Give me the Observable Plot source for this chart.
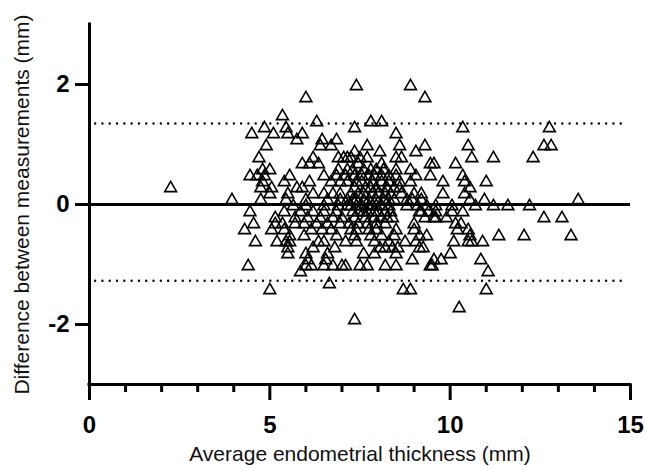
<!DOCTYPE html>
<html><head><meta charset="utf-8">
<script src="https://cdn.jsdelivr.net/npm/d3@7"></script>
<script src="https://cdn.jsdelivr.net/npm/@observablehq/plot@0.6"></script>
<style>
html,body{margin:0;padding:0;background:#fff}
svg [aria-label*="tick"], svg [aria-label*="tick"] * { stroke-width: 3px !important; }
</style>
</head><body><div id="chart"></div>
<script>
const xTitle = "Average endometrial thickness (mm)";
const yTitle = "Difference between measurements (mm)";
const xMajorTicks = [0, 5, 10, 15];
const xMinorTicks = [1, 2, 3, 4, 6, 7, 8, 9, 11, 12, 13, 14];
const yTicks = [-2, 0, 2];
const limitsOfAgreement = [1.35, -1.27];
const biasLine = [0];

// Difference levels (mm) and the averages (mm) of the points at each level
const diffLevels = [2.0, 1.8, 1.5, 1.4, 1.3, 1.2, 1.1, 1.0, 0.9, 0.8, 0.7, 0.6, 0.5, 0.4, 0.3, 0.2, 0.1, 0.0,
  -0.1, -0.2, -0.3, -0.4, -0.5, -0.6, -0.7, -0.8, -0.9, -1.0, -1.1, -1.3, -1.4, -1.7, -1.9];
const averagesAtLevel = [
  [7.4, 8.9],
  [6.0, 9.3],
  [5.35],
  [6.3, 7.8, 8.1],
  [4.85, 5.45, 7.35, 10.35, 12.75],
  [4.5, 5.1, 5.5, 5.9, 8.5],
  [5.75, 6.45, 6.85],
  [4.9, 6.4, 6.7, 7.7, 8.6, 9.3, 10.5, 12.6, 12.8],
  [7.35, 8.05, 9.05],
  [4.7, 6.2, 6.9, 7.05, 7.15, 7.25, 7.5, 7.7, 8.5, 8.65, 10.6, 11.2, 12.3],
  [5.9, 6.1, 6.35, 7.45, 8.1, 9.45, 9.55, 10.15],
  [4.8, 5.0, 6.9, 7.15, 7.3, 7.6, 7.8, 7.95, 8.15, 8.5, 8.9],
  [4.45, 4.65, 4.85, 5.55, 6.5, 6.85, 7.1, 7.35, 7.55, 7.75, 7.9, 8.1, 8.3, 8.5, 9.05, 9.45, 10.35],
  [4.8, 5.4, 6.1, 6.7, 6.95, 7.15, 7.4, 7.55, 7.85, 8.1, 8.3, 8.6, 8.9, 9.8, 10.4, 11.0],
  [2.25, 4.75, 5.05, 5.75, 5.9, 7.35, 7.65, 7.8, 7.95, 8.25, 8.45, 8.6, 10.55],
  [5.0, 5.5, 6.2, 6.5, 6.75, 6.95, 7.25, 7.45, 7.6, 7.85, 8.0, 8.2, 8.35, 8.65, 9.0, 9.2, 9.8, 10.4],
  [3.95, 4.75, 5.45, 6.0, 6.6, 6.95, 7.15, 7.3, 7.4, 7.6, 7.75, 7.95, 8.15, 8.3, 8.45, 8.8, 8.95, 9.2, 10.55, 10.95, 13.55],
  [5.65, 6.0, 6.5, 6.9, 7.15, 7.25, 7.4, 7.55, 7.75, 7.85, 7.95, 8.1, 8.3, 8.8, 9.1, 9.35, 9.6, 10.05, 10.7, 11.2, 11.6, 12.2],
  [4.45, 5.4, 5.85, 6.2, 6.5, 6.85, 7.3, 7.45, 7.6, 7.7, 7.9, 8.0, 8.2, 8.35, 9.15, 9.2, 9.4, 9.6, 10.05, 10.35],
  [5.15, 5.7, 6.05, 6.4, 6.75, 7.0, 7.35, 7.65, 7.9, 8.1, 8.25, 8.4, 9.3, 9.55, 9.6, 9.9, 12.6, 13.1],
  [4.55, 5.15, 5.35, 5.7, 5.95, 6.3, 6.6, 6.95, 7.2, 7.45, 7.7, 7.95, 8.2, 9.0, 10.15, 10.3],
  [4.3, 5.05, 5.4, 6.15, 6.45, 6.7, 7.25, 7.4, 7.75, 7.95, 8.5, 9.0, 10.2, 10.5],
  [5.55, 5.95, 6.85, 7.35, 7.8, 8.1, 8.45, 9.15, 9.35, 10.55, 11.35, 12.05, 13.35],
  [4.6, 5.2, 5.45, 5.55, 6.35, 6.5, 7.1, 7.4, 7.9, 8.3, 8.75, 9.05, 10.1, 10.5, 10.6, 10.9],
  [5.5, 6.2, 6.8, 8.05, 8.2, 8.4, 8.55, 9.15, 9.25],
  [5.5, 6.0, 6.6, 7.6, 7.9, 8.5, 10.0],
  [6.05, 6.55, 8.95, 9.55, 9.75, 10.85],
  [4.4, 6.0, 6.15, 6.5, 6.75, 7.0, 7.1, 7.5, 7.7, 8.2, 8.5, 9.45, 9.5],
  [5.85, 11.05],
  [6.65],
  [5.0, 8.7, 8.9, 11.0],
  [10.25],
  [7.35]
];

const points = diffLevels.flatMap((d, i) => averagesAtLevel[i].map(a => ({avg: a, diff: d})));

const chart = Plot.plot({
  width: 645,
  height: 470,
  marginLeft: 89,
  marginRight: 15,
  marginTop: 24,
  marginBottom: 86,
  x: {domain: [0, 15]},
  y: {domain: [-3, 3]},
  style: {fontFamily: "'Liberation Sans', Arial, sans-serif", color: "black", background: "white"},
  marks: [
    Plot.ruleY(limitsOfAgreement, {x1: 0.17, x2: 14.85, stroke: "black", strokeWidth: 2.4, strokeDasharray: "0,7.3", strokeLinecap: "round"}),
    Plot.ruleY(biasLine, {x1: 0, x2: 15, stroke: "black", strokeWidth: 3}),
    Plot.dot(points, {x: "avg", y: "diff", symbol: "triangle", r: 4.4, stroke: "black", strokeWidth: 1.6, fill: "none", dy: 1.7}),
    Plot.axisX({ticks: xMinorTicks, tickSize: 8, tickFormat: () => "", strokeWidth: 3, label: null}),
    Plot.axisX({ticks: xMajorTicks, tickSize: 16, tickPadding: 15, tickFormat: d => String(d), fontSize: 24, fontWeight: "bold", strokeWidth: 3, label: null}),
    Plot.axisY({ticks: yTicks, tickSize: 14, tickPadding: 6, tickFormat: d => String(d), fontSize: 24, fontWeight: "bold", strokeWidth: 3, label: null}),
    Plot.ruleX([0], {y1: -3, y2: 3, stroke: "black", strokeWidth: 3, strokeLinecap: "square"}),
    Plot.ruleY([-3], {x1: 0, x2: 15, stroke: "black", strokeWidth: 3, strokeLinecap: "square"}),
    Plot.text([xTitle], {text: d => d, frameAnchor: "bottom", dy: 76, fontSize: 21, fill: "#111"}),
    Plot.text([yTitle], {text: d => d, frameAnchor: "left", dx: -67, rotate: -90, textAnchor: "middle", fontSize: 21, fill: "#111"})
  ]
});
document.getElementById("chart").appendChild(chart);
</script>
</body></html>
